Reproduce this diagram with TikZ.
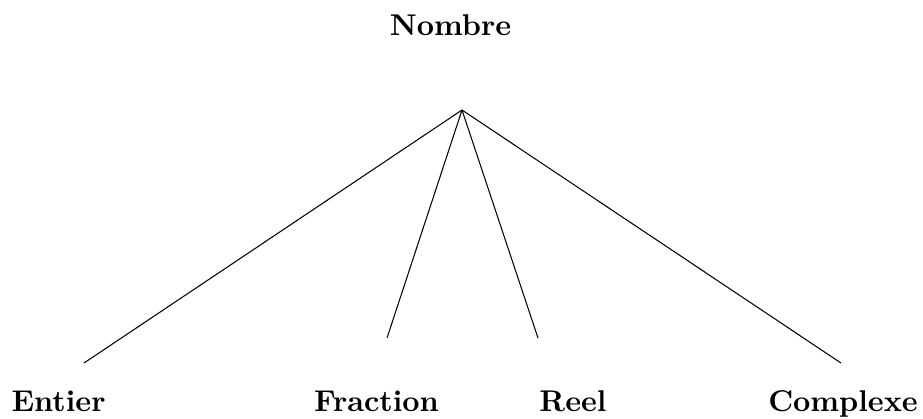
\documentclass[tikz,border=0pt]{standalone}
\usepackage{tikz}
\usetikzlibrary{positioning}

\begin{document}
\begin{tikzpicture}[
  x=0.3333pt, y=-0.3333pt,
  lbl/.style={font=\bfseries,anchor=base,inner sep=0pt},
  every path/.style={line width=0.35pt}]
  \useasboundingbox (0,0) rectangle (923,418);
  \node[lbl] (nombre) at (450.5,35) {Nombre};
  \coordinate (top) at (462,110);
  \coordinate (e) at (84,363);
  \coordinate (f) at (387,338);
  \coordinate (r) at (538,338);
  \coordinate (c) at (841,363);
  \node[lbl] (entier) at (58.5,411) {Entier};
  \node[lbl] (fraction) at (376.5,411) {Fraction};
  \node[lbl] (reel) at (573,411) {Reel};
  \node[lbl] (complexe) at (843,411) {Complexe};
  \draw (top)--(e); \draw (top)--(f); \draw (top)--(r); \draw (top)--(c);
\end{tikzpicture}
\end{document}
